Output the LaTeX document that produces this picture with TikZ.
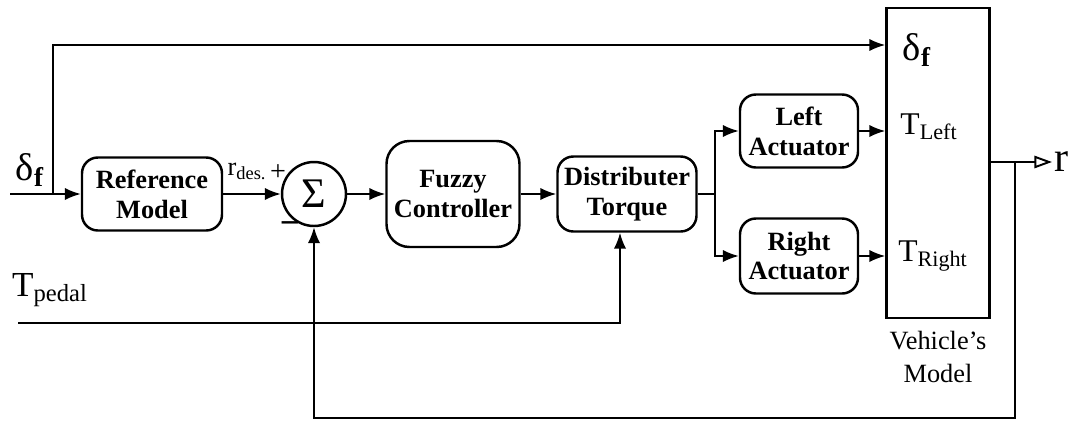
\documentclass[tikz,border=0pt]{standalone}
\usepackage{fontspec}
\setmainfont{Liberation Serif}
\usetikzlibrary{arrows.meta}

\tikzset{
  blk/.style={draw, line width=1.4pt, rounded corners=9pt, align=center,
    font=\fontsize{15}{17}\selectfont\bfseries, inner sep=0pt},
  sig/.style={line width=1.1pt, -{Latex[length=9pt,width=7pt]}},
  wire/.style={line width=1.1pt},
  lbl/.style={font=\fontsize{15}{17}\selectfont, inner sep=1pt}
}

\begin{document}
\begin{tikzpicture}[x=0.02cm, y=-0.02cm]
\useasboundingbox (0,0) rectangle (1072,423);

% Blocks
\node[blk, minimum width=2.8cm, minimum height=1.46cm] (ref) at (152,194) {Reference\\Model};
\node[draw, circle, line width=1.4pt, minimum size=1.28cm, inner sep=0pt,
  font=\fontsize{24}{26}\selectfont] (sum) at (314,194) {Σ};
\node[blk, minimum width=2.66cm, minimum height=2.12cm, rounded corners=13pt] (fuzzy) at (453,194) {Fuzzy\\Controller};
\node[blk, minimum width=2.78cm, minimum height=1.5cm] (dist) at (627,194) {Distributer\\Torque};
\node[blk, minimum width=2.36cm, minimum height=1.46cm] (left) at (799,131) {Left\\Actuator};
\node[blk, minimum width=2.36cm, minimum height=1.5cm] (right) at (799,256) {Right\\Actuator};
\node[draw, line width=1.4pt, minimum width=2.06cm, minimum height=6.2cm, inner sep=0pt] (veh) at (938,163) {};

% Labels
\node[lbl, font=\fontsize{22}{24}\selectfont] (din) at (30,170) {δ\textsubscript{\bfseries f}};
\node[lbl, font=\fontsize{20}{22}\selectfont] (tp) at (50,290) {T\textsubscript{pedal}};
\node[lbl, font=\fontsize{15}{17}\selectfont] (rdes) at (247,171) {r\textsubscript{des.}};
\node[lbl, font=\fontsize{16}{18}\selectfont] (plus) at (278,173) {+};
\node[lbl, font=\fontsize{20}{22}\selectfont\bfseries] (minus) at (290,228) {−};
\node[lbl, font=\fontsize{22}{24}\selectfont] (vd) at (917,50) {δ\textsubscript{\bfseries f}};
\node[lbl, font=\fontsize{18}{20}\selectfont] (vl) at (929,127) {T\textsubscript{Left}};
\node[lbl, font=\fontsize{18}{20}\selectfont] (vr) at (933,256) {T\textsubscript{Right}};
\node[lbl, align=center, font=\fontsize{15}{19}\selectfont] (vname) at (938,357) {Vehicle's\\Model};

% Connectors
\coordinate (in) at (10,194);
\coordinate (split) at (53,194);
\coordinate (top) at (53,45);
\draw[wire] (in) -- (split);
\draw[sig] (split) -- (ref);
\draw[sig] (split) -- (top) -- (veh.west |- top);
\draw[sig] (ref) -- (sum);
\draw[sig] (sum) -- (fuzzy);
\draw[sig] (fuzzy) -- (dist);
\coordinate (fork) at (715,194);
\draw[wire] (dist) -- (fork);
\draw[sig] (fork) |- (left);
\draw[sig] (fork) |- (right);
\draw[sig] (left) -- (veh.west |- left);
\draw[sig] (right) -- (veh.west |- right);

% Pedal torque
\coordinate (pin) at (18,323);
\coordinate (pd) at (620,323);
\draw[sig] (pin) -- (pd) -- (dist.south -| pd);

% Output and feedback
\coordinate (tap) at (1015,162);
\coordinate (out) at (1052,162);
\coordinate (fb) at (1015,418);
\draw[wire] (veh.east |- tap) -- (tap);
\draw[line width=1.1pt, -{Triangle[open,length=10pt,width=7pt]}] (tap) -- (out);
\node[lbl, font=\fontsize{24}{26}\selectfont, anchor=west] (r) at (out) {r};
\draw[sig] (tap) -- (fb) -| (sum);

\end{tikzpicture}
\end{document}
